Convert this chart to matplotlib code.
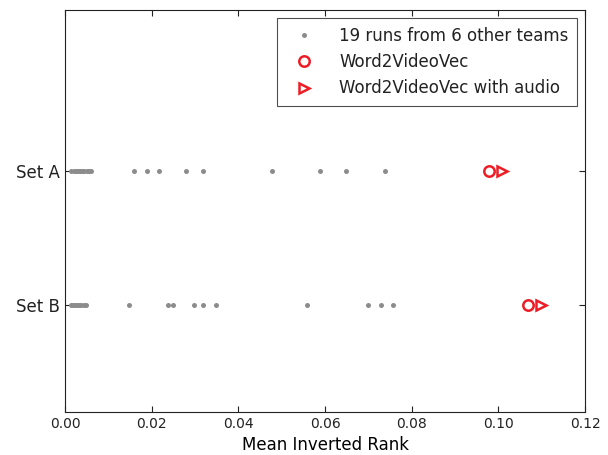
import numpy as np
import matplotlib
matplotlib.use('Agg')
import matplotlib.pyplot as plt

# Mean inverted rank of the other teams' runs
others_a = [0.0015, 0.002, 0.0025, 0.003, 0.0035, 0.004, 0.0045, 0.005, 0.0055, 0.006,
            0.0159, 0.0189, 0.0218, 0.0279, 0.0319, 0.0478, 0.0589, 0.0648, 0.0738]
others_b = [0.0013, 0.0018, 0.0023, 0.0028, 0.0033, 0.0038, 0.0043, 0.0048,
            0.0148, 0.0238, 0.0249, 0.0298, 0.0318, 0.0348, 0.0558, 0.0699, 0.0729, 0.0758]
w2vv = [0.0978, 0.1069]        # Set A, Set B
w2vv_audio = [0.1008, 0.1098]  # Set A, Set B

sets = ['Set A', 'Set B']
ypos = [2, 1]
xticks = [0.00, 0.02, 0.04, 0.06, 0.08, 0.10, 0.12]

red = '#ee1c25'
grey = '#8c8c8c'
dark = '#222222'

plt.rcParams['text.color'] = dark
plt.rcParams['xtick.labelcolor'] = dark
plt.rcParams['ytick.labelcolor'] = dark

fig = plt.figure(figsize=(6.08, 4.55), dpi=100)
ax = fig.add_axes([0.1069, 0.0945, 0.8553, 0.8835])

ax.plot(others_a, [ypos[0]] * len(others_a), 'o', color=grey, markersize=3.6,
        markeredgewidth=0, label='19 runs from 6 other teams')
ax.plot(others_b, [ypos[1]] * len(others_b), 'o', color=grey, markersize=3.6,
        markeredgewidth=0)
ax.plot(w2vv, ypos, 'o', markerfacecolor='none', markeredgecolor=red,
        markersize=7.5, markeredgewidth=1.8, label='Word2VideoVec')
ax.plot(w2vv_audio, ypos, '>', markerfacecolor='none', markeredgecolor=red,
        markersize=7.5, markeredgewidth=1.8, label='Word2VideoVec with audio')

ax.set_xlim(0, 0.12)
ax.set_ylim(0.2, 3.2)
ax.set_xticks(xticks)
ax.set_xticklabels(['%.2f' % t for t in xticks], fontsize=10)
ax.set_yticks(ypos)
ax.set_yticklabels(sets, fontsize=12)
ax.set_xlabel('Mean Inverted Rank', fontsize=12)
ax.tick_params(direction='in', top=True, right=True, length=4, color=dark)
for s in ax.spines.values():
    s.set_color(dark)

leg = ax.legend(loc='upper right', fontsize=12, fancybox=False, numpoints=1,
                handletextpad=1.0, handlelength=2.2, borderaxespad=0.5, borderpad=0.5)
leg.get_frame().set_edgecolor(dark)
leg.get_frame().set_linewidth(0.8)

fig.savefig('out.png', dpi=100)
